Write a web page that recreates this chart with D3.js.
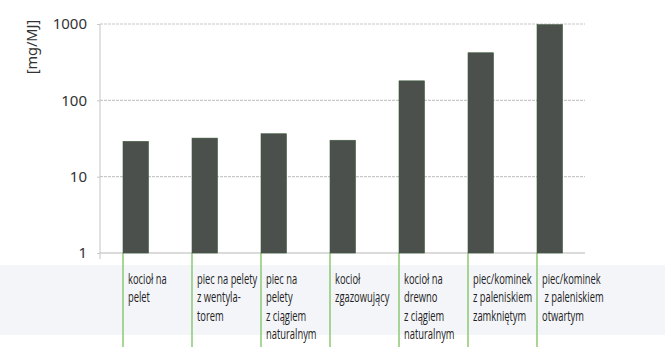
<!DOCTYPE html>
<html><head><meta charset="utf-8">
<script src="https://cdn.jsdelivr.net/npm/d3@7"></script>
<style>body{margin:0;background:#fff}svg{display:block}</style>
</head><body>
<svg id="c" width="665" height="358"></svg>
<script>
const categories = [
  ["kocioł na","pelet"],
  ["piec na pelety","z wentyla-","torem"],
  ["piec na","pelety","z ciągiem","naturalnym"],
  ["kocioł","zgazowujący"],
  ["kocioł na","drewno","z ciągiem","naturalnym"],
  ["piec/kominek","z paleniskiem","zamkniętym"],
  ["piec/kominek"," z paleniskiem","otwartym"]
];
const values = [29, 32, 36.5, 30, 180, 420, 980];
const tickValues = [1, 10, 100, 1000];
const yLabel = "[mg/MJ]";

const svg = d3.select("#c");
// faint scanned band
svg.append("rect").attr("x",0).attr("y",265).attr("width",665).attr("height",70).attr("fill","#f4f5f9");

const y = d3.scaleLog().domain([1,1000]).range([253,24]);
const x = d3.scaleBand().domain(d3.range(categories.length)).range([123,606]).paddingInner(0).paddingOuter(0);
const bw = 25.5;

// gridlines
svg.append("g").selectAll("line").data(tickValues).join("line")
  .attr("x1",100).attr("x2",585).attr("y1",d=>y(d)).attr("y2",d=>y(d))
  .attr("stroke",d=>d===1?"#b8b8b8":"#c8c8c8").attr("stroke-width",1.1)
  .attr("stroke-dasharray",d=>d===1?null:"3,1");
// y axis line
svg.append("line").attr("x1",100).attr("x2",100).attr("y1",y(1000)).attr("y2",259)
  .attr("stroke","#c8c8c8").attr("stroke-width",1.1);

const axis = d3.axisLeft(y).tickValues(tickValues).tickFormat(d3.format("d")).tickSize(3).tickPadding(10);
const ag = svg.append("g").attr("transform","translate(100,0)").call(axis);
ag.select(".domain").remove();
ag.selectAll(".tick line").attr("stroke","#c8c8c8");
ag.selectAll("text").attr("font-family","Noto Sans, sans-serif").attr("font-size",15).attr("fill","#333");

svg.append("text").attr("transform","translate(37,47) rotate(-90)").attr("text-anchor","middle")
  .attr("font-family","Noto Sans, sans-serif").attr("font-size",14.5).attr("fill","#333").text(yLabel);

// green separators
svg.append("g").selectAll("line").data(categories).join("line")
  .attr("x1",(d,i)=>x(i)).attr("x2",(d,i)=>x(i)).attr("y1",253).attr("y2",347)
  .attr("stroke","#7cc15e").attr("stroke-width",1.3);

// bars
svg.append("g").selectAll("rect").data(values).join("rect")
  .attr("x",(d,i)=>x(i)).attr("width",bw).attr("y",d=>y(d)).attr("height",d=>y(1)-y(d))
  .attr("fill","#4b504d").attr("stroke","#3c5a3a").attr("stroke-width",0.6);

// labels (condensed by horizontal scaling)
const lg = svg.append("g").selectAll("text").data(categories).join("text")
  .attr("transform",(d,i)=>`translate(${x(i)+5},284) scale(0.66,1)`)
  .attr("font-family","Open Sans, sans-serif").attr("font-size",14.2).attr("fill","#222")
  .style("white-space","pre");
lg.selectAll("tspan").data(d=>d).join("tspan")
  .attr("x",0).attr("dy",(d,j)=>j===0?0:18.3).text(d=>d);
</script>
</body></html>
